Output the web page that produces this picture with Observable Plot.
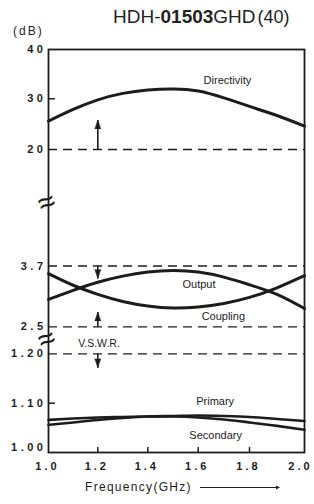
<!DOCTYPE html>
<html><head><meta charset="utf-8">
<script src="https://cdn.jsdelivr.net/npm/d3@7"></script>
<script src="https://cdn.jsdelivr.net/npm/@observablehq/plot@0.6"></script>
<style>
body{margin:0;background:#fff;}
g[aria-label="y-axis tick label"]{letter-spacing:3.5px;}
g[aria-label="x-axis tick label"]{letter-spacing:3px;}
g[aria-label="curve-labels"]{letter-spacing:0.8px;}
</style>
</head><body><div id="chart"></div>
<script>
// ---- data ----
const freq        = [1.0, 1.1, 1.2, 1.3, 1.4, 1.5, 1.6, 1.7, 1.8, 1.9, 2.0];
const directivity = [25.6, 27.9, 29.8, 31.1, 31.8, 32.0, 31.6, 30.2, 28.5, 26.7, 24.6];
const output      = [3.04, 3.22, 3.38, 3.50, 3.58, 3.61, 3.58, 3.48, 3.33, 3.14, 2.86];
const coupling    = [3.55, 3.32, 3.14, 3.00, 2.91, 2.87, 2.89, 2.96, 3.08, 3.27, 3.51];
const primary     = [1.056, 1.061, 1.066, 1.070, 1.073, 1.074, 1.075, 1.074, 1.072, 1.068, 1.064];
const secondary   = [1.066, 1.069, 1.071, 1.072, 1.073, 1.073, 1.071, 1.067, 1.061, 1.054, 1.046];

const xTicks      = [1.0, 1.2, 1.4, 1.6, 1.8, 2.0];
const xTickLabels = ["1.0", "1.2", "1.4", "1.6", "1.8", "2.0"];
const xInnerTicks = [1.2, 1.4, 1.6, 1.8];
const yTickValues = [1.00, 1.10, 1.20, 2.5, 3.7, 20, 30, 40];
const yTickLabels = ["1.00", "1.10", "1.20", "2.5", "3.7", "20", "30", "40"];
const yInnerTicks = [1.10, 30];
const specLimits  = [20, 3.7, 2.5, 1.20];
const breakValues = [12.6, 1.9];

// spec arrows at 1.2 GHz: from limit line toward the acceptable side
const arrowX    = [1.2, 1.2, 1.2, 1.2];
const arrowFrom = [20, 3.7, 2.5, 1.20];
const arrowTo   = [25.8, 3.454, 2.79, 1.172];
const arrowUp   = [true, false, true, false];

const labelText = ["Directivity", "Output", "Coupling", "Primary", "Secondary"];
const labelX    = [1.714, 1.603, 1.698, 1.666, 1.668];
const labelY    = [33.66, 3.336, 2.706, 1.103, 1.034];

// ---- broken-axis mapping (piecewise: each section has its own scale) ----
const vy = d3.scaleLinear().domain(yTickValues).range([0, 49.3, 98.7, 125.7, 186.5, 303, 353.7, 403]);
const vx = d3.scaleLinear().domain(xTicks).range([0, 49.3, 99.3, 149.7, 201, 256]);

// ---- tables ----
const series = (vals, name) => freq.map((f, i) => ({f, v: vals[i], name}));
const curves = [
  series(directivity, "Directivity"), series(output, "Output"), series(coupling, "Coupling"),
  series(primary, "Primary"), series(secondary, "Secondary")
];
const arrows = arrowX.map((x, i) => ({x, from: arrowFrom[i], to: arrowTo[i], up: arrowUp[i]}));
const labels = labelText.map((t, i) => ({t, x: labelX[i], y: labelY[i]}));
const yLab = new Map(yTickValues.map((v, i) => [vy(v), yTickLabels[i]]));
const xLab = new Map(xTicks.map((v, i) => [vx(v), xTickLabels[i]]));
const lastX = xTicks[xTicks.length - 1];

const ink = "#1c1c1c";
const chart = Plot.plot({
  width: 314, height: 504,
  marginLeft: 48, marginRight: 10, marginTop: 49, marginBottom: 52,
  style: {fontFamily: "'Liberation Sans', Arial, sans-serif", background: "#fff", color: ink},
  x: {domain: [vx(1.0), vx(2.0)]},
  y: {domain: [vy(1.00), vy(40)]},
  marks: [
    Plot.ruleY(specLimits, {y: d => vy(d), stroke: ink, strokeWidth: 1.3, strokeDasharray: "9,6"}),
    Plot.ruleX(xInnerTicks, {x: d => vx(d), y1: vy(1.00), y2: vy(1.01), stroke: ink, strokeWidth: 1.5}),
    Plot.ruleY(yInnerTicks, {y: d => vy(d), x1: vx(1.0), x2: vx(1.028), stroke: ink, strokeWidth: 1.5}),
    ...curves.map(c => Plot.line(c, {x: d => vx(d.f), y: d => vy(d.v), curve: "natural", stroke: ink,
        strokeWidth: (c[0].name === "Primary" || c[0].name === "Secondary") ? 2.6 : 3})),
    Plot.link(arrows, {x1: d => vx(d.x), x2: d => vx(d.x), y1: d => vy(d.from), y2: d => vy(d.to),
        stroke: ink, strokeWidth: 1.6}),
    Plot.vector(arrows, {x: d => vx(d.x), y: d => vy(d.to), rotate: d => d.up ? 0 : 180, length: 9, r: 3,
        shape: "spike", anchor: "end", fill: ink, stroke: ink, strokeWidth: 0.5}),
    Plot.text(labels, {x: d => vx(d.x), y: d => vy(d.y), text: "t", fontSize: 11, fill: ink, ariaLabel: "curve-labels"}),
    Plot.text(["V.S.W.R."], {x: vx(1.205), y: vy(1.71), text: d => d, fontSize: 10.5, fill: ink}),
    Plot.text(breakValues, {x: vx(1.0), y: d => vy(d), text: () => "≈", fontSize: 30, rotate: -22,
        fill: ink, dx: -2}),
    Plot.frame({stroke: ink, strokeWidth: 1.8}),
    Plot.axisY(yTickValues.filter(v => v !== 1.00).map(vy), {tickSize: 0, tickPadding: 2,
        tickFormat: d => yLab.get(d), fontSize: 11, fontWeight: "bold", label: null}),
    Plot.axisY([vy(1.00)], {tickSize: 0, tickPadding: 2, dy: -5,
        tickFormat: d => yLab.get(d), fontSize: 11, fontWeight: "bold", label: null}),
    Plot.axisX(xTicks.filter(v => v !== lastX).map(vx), {tickSize: 0, tickPadding: 10, dx: -1,
        tickFormat: d => xLab.get(d), fontSize: 11, fontWeight: "bold", label: null}),
    Plot.axisX([vx(lastX)], {tickSize: 0, tickPadding: 10, dx: -4,
        tickFormat: d => xLab.get(d), fontSize: 11, fontWeight: "bold", label: null})
  ]
});

const svg = d3.select(chart);
const title = svg.append("text").attr("x", 113).attr("y", 22.5).attr("text-anchor", "start")
  .style("font-size", "19px").attr("fill", "#222");
title.append("tspan").text("HDH-");
title.append("tspan").style("font-weight", "bold").text("01503");
title.append("tspan").text("GHD");
title.append("tspan").attr("dx", 2).style("font-size", "18px").text("(40)");

svg.append("text").attr("x", 13).attr("y", 35).attr("text-anchor", "start").style("font-size", "12px")
  .style("letter-spacing", "2px").attr("fill", ink).text("(dB)");

svg.append("text").attr("x", 85).attr("y", 491).attr("text-anchor", "start").style("font-size", "12px")
  .style("letter-spacing", "1.3px").attr("fill", ink).text("Frequency(GHz)");
svg.append("line").attr("x1", 200).attr("x2", 276).attr("y1", 487.5).attr("y2", 487.5)
  .attr("stroke", ink).attr("stroke-width", 1);
svg.append("path").attr("d", "M276,485.5L280,487.5L276,489.5Z").attr("fill", ink);

document.getElementById("chart").append(chart);
</script>
</body></html>
